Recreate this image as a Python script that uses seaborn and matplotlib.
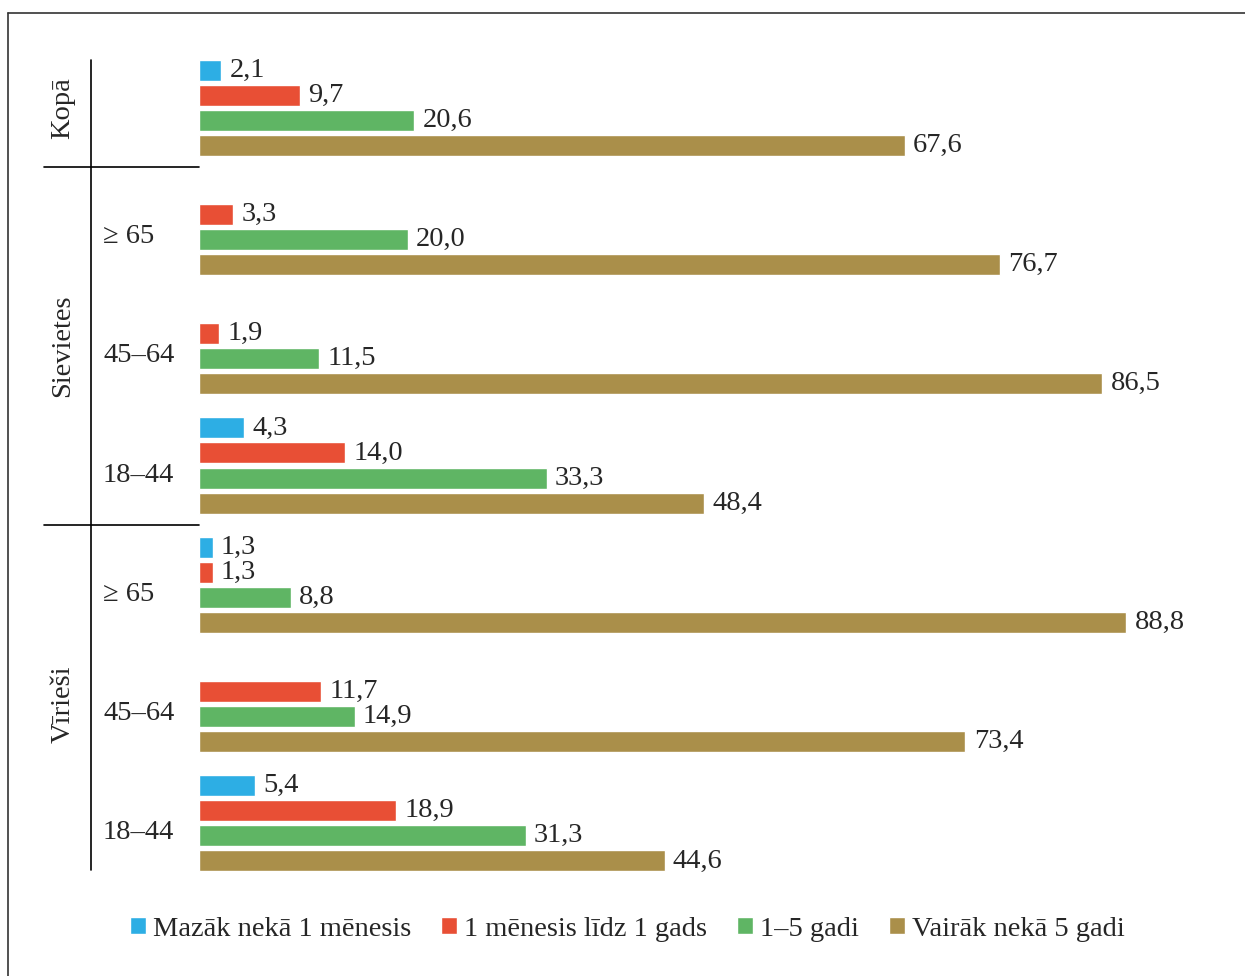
import numpy as np
import pandas as pd
import seaborn as sns
import matplotlib.pyplot as plt
from matplotlib import transforms
from matplotlib.lines import Line2D

# data (NaN = no value shown)
groups = ["Kopā", "S ≥ 65", "S 45–64", "S 18–44", "V ≥ 65", "V 45–64", "V 18–44"]
age_labels = ["", "≥ 65", "45–64", "18–44", "≥ 65", "45–64", "18–44"]
series = ["Mazāk nekā 1 mēnesis", "1 mēnesis līdz 1 gads", "1–5 gadi", "Vairāk nekā 5 gadi"]
less_1_month = [2.1, np.nan, np.nan, 4.3, 1.3, np.nan, 5.4]
month_to_year = [9.7, 3.3, 1.9, 14.0, 1.3, 11.7, 18.9]
one_to_five = [20.6, 20.0, 11.5, 33.3, 8.8, 14.9, 31.3]
more_than_five = [67.6, 76.7, 86.5, 48.4, 88.8, 73.4, 44.6]
colors = ["#2DAEE4", "#E84F35", "#5FB564", "#AA8F4A"]

rows = []
for name, vals in zip(series, [less_1_month, month_to_year, one_to_five, more_than_five]):
    for g, v in zip(groups, vals):
        rows.append({"group": g, "series": name, "value": v})
df = pd.DataFrame(rows).dropna()

sns.set_style("white")
font = ["Liberation Serif", "DejaVu Serif"]
plt.rcParams["font.family"] = font
fs = 20.5

fig = plt.figure(figsize=(12.45, 9.76), dpi=100)
ax = fig.add_axes([199 / 1245, 93 / 976, 1044 / 1245, 835 / 976])

sns.barplot(data=df, y="group", x="value", hue="series", order=groups,
            hue_order=series, palette=colors, orient="h", width=0.84,
            gap=0.16, errorbar=None, saturation=1, ax=ax, legend=True)

for cont in ax.containers:
    ax.bar_label(cont, fmt=lambda v: f"{v:.1f}".replace(".", ","),
                 padding=6, fontsize=fs)

ax.set_xlim(0, 100)
ax.set_ylim(6.5, -0.5)
ax.set_xlabel("")
ax.set_ylabel("")
ax.set_xticks([])
ax.set_yticks([])
sns.despine(ax=ax, left=True, bottom=True)

# left side labels and separators
tr = transforms.blended_transform_factory(fig.transFigure, ax.transData)
for i, lab in enumerate(age_labels):
    if lab:
        ax.text(103 / 1245, i + 0.08, lab, transform=tr, ha="left", va="center",
                fontsize=fs, clip_on=False)
for pos, lab in [(0, "Kopā"), (2, "Sievietes"), (5, "Vīrieši")]:
    ax.text(63 / 1245, pos, lab, transform=tr, rotation=90, ha="center",
            va="center", fontsize=fs, clip_on=False)

ax.add_line(Line2D([91 / 1245, 91 / 1245], [-0.4, 6.39], transform=tr,
                   color="black", lw=1.2, clip_on=False))
for y in [0.5, 3.5]:
    ax.add_line(Line2D([44 / 1245, 199 / 1245], [y, y], transform=tr,
                       color="black", lw=1.2, clip_on=False))

# frame
fig.add_artist(Line2D([8 / 1245, 8 / 1245], [0, 1 - 13 / 976],
                      transform=fig.transFigure, color="#333333", lw=1.2))
fig.add_artist(Line2D([8 / 1245, 1], [1 - 13 / 976, 1 - 13 / 976],
                      transform=fig.transFigure, color="#333333", lw=1.2))

# legend
handles, labels = ax.get_legend_handles_labels()
ax.get_legend().remove()
fig.legend(handles, labels, loc="center", bbox_to_anchor=(627 / 1245, 1 - 929 / 976),
           ncol=4, frameon=False, fontsize=fs, handlelength=0.56, handleheight=0.56,
           handletextpad=0.25, columnspacing=1.05)

fig.savefig("out.png", dpi=100)
